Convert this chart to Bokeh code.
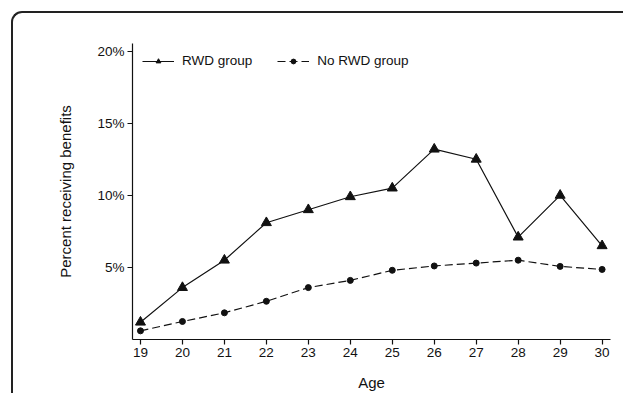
from bokeh.plotting import figure
from bokeh.models import (ColumnDataSource, FixedTicker, PrintfTickFormatter, Range1d,
                          Legend, LegendItem, InlineStyleSheet)
from bokeh.embed import file_html
from bokeh.resources import INLINE

ages = [19, 20, 21, 22, 23, 24, 25, 26, 27, 28, 29, 30]
rwd_group = [1.2, 3.6, 5.5, 8.1, 9.0, 9.9, 10.5, 13.2, 12.5, 7.1, 10.0, 6.5]
no_rwd_group = [0.6, 1.25, 1.85, 2.65, 3.6, 4.1, 4.8, 5.1, 5.3, 5.5, 5.07, 4.86]
y_ticks = [5, 10, 15, 20]
series_names = ["RWD group", "No RWD group"]

FONT = "Liberation Sans"
INK = "#111111"

p = figure(width=623, height=393, output_backend="svg", toolbar_location=None,
           x_range=Range1d(18.81, 30.2), y_range=Range1d(0, 20.53),
           min_border_left=132, min_border_right=13, min_border_top=43, min_border_bottom=51)
p.background_fill_color = "white"
p.border_fill_color = "white"
p.outline_line_color = None
p.xgrid.grid_line_color = None
p.ygrid.grid_line_color = None

src = ColumnDataSource(dict(age=ages, rwd=rwd_group, norwd=no_rwd_group))

l1 = p.line("age", "rwd", source=src, line_color=INK, line_width=1.2)
m1 = p.scatter("age", "rwd", source=src, marker="triangle", size=10,
               fill_color=INK, line_color=INK)
l2 = p.line("age", "norwd", source=src, line_color=INK, line_width=1.2, line_dash="8 4")
m2 = p.scatter("age", "norwd", source=src, marker="circle", size=6,
               fill_color=INK, line_color=INK)

legend = Legend(items=[LegendItem(label=series_names[0], renderers=[l1, m1]),
                       LegendItem(label=series_names[1], renderers=[l2, m2])],
                orientation="horizontal", location="top_left",
                margin=10, padding=0, spacing=25,
                glyph_width=32, glyph_height=12, label_height=12, label_standoff=8,
                border_line_color=None, background_fill_alpha=0,
                label_text_font=FONT, label_text_font_size="13.5px", label_text_color=INK)
p.add_layout(legend, "center")

for ax in (p.xaxis[0], p.yaxis[0]):
    ax.axis_line_color = INK
    ax.axis_line_width = 1.2
    ax.major_tick_line_color = INK
    ax.major_tick_line_width = 1.2
    ax.major_tick_out = 5
    ax.major_tick_in = 0
    ax.minor_tick_line_color = None
    ax.major_label_text_font = FONT
    ax.major_label_text_font_size = "13.5px"
    ax.major_label_text_color = INK
    ax.axis_label_text_font = FONT
    ax.axis_label_text_font_size = "15px"
    ax.axis_label_text_font_style = "normal"
    ax.axis_label_text_color = INK

p.xaxis.ticker = FixedTicker(ticks=ages)
p.xaxis.axis_label = "Age"
p.xaxis.major_label_standoff = 3
p.xaxis.axis_label_standoff = 14

p.yaxis.ticker = FixedTicker(ticks=y_ticks)
p.yaxis.formatter = PrintfTickFormatter(format="%d%%")
p.yaxis.axis_label = "Percent receiving benefits"
p.yaxis.major_label_standoff = 3
p.yaxis.axis_label_standoff = 20

# rounded outer frame: only the left and top edges, as in the reference
sheets = [InlineStyleSheet(css="""
:host { position: relative; }
:host::after {
  content: ""; position: absolute; left: 11px; top: 11px;
  right: 0px; bottom: 0px;
  border-left: 2px solid #222; border-top: 2px solid #222;
  border-right: none; border-bottom: none;
  border-top-left-radius: 11px; pointer-events: none; box-sizing: border-box;
}
""")]
try:
    from bokeh.models import GlobalInlineStyleSheet
    sheets.insert(0, GlobalInlineStyleSheet(css="html, body { overflow: hidden; }"))
except Exception:
    pass
p.stylesheets = sheets

open("out.html", "w").write(file_html(p, INLINE))
